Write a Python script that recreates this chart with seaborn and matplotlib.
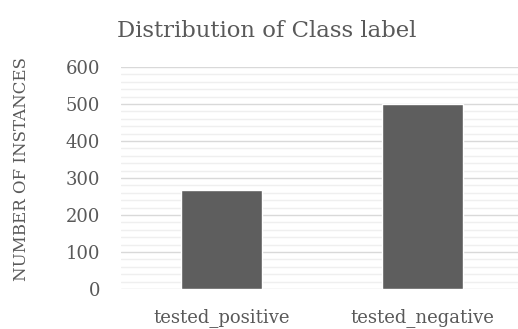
import matplotlib
matplotlib.use("Agg")
import matplotlib.pyplot as plt
from matplotlib.ticker import MultipleLocator
import seaborn as sns
import pandas as pd

categories = ["tested_positive", "tested_negative"]
counts = [268, 500]
y_ticks = [0, 100, 200, 300, 400, 500, 600]

title = "Distribution of Class label"
y_label = "NUMBER OF INSTANCES"

sns.set_theme(style="white")
plt.rcParams["font.family"] = ["DejaVu Serif"]

text_color = "#595959"
bar_color = "#5e5e5e"

df = pd.DataFrame({"label": categories, "count": counts})

fig = plt.figure(figsize=(5.18, 3.29), dpi=100)
ax = fig.add_axes([121 / 518, 40 / 329, 402 / 518, 222 / 329])

sns.barplot(data=df, x="label", y="count", color=bar_color, width=0.40,
            saturation=1, ax=ax, zorder=3)

ax.set_xlim(-0.5, 1.5)
ax.set_ylim(0, 600)
ax.set_yticks(y_ticks)
ax.yaxis.set_minor_locator(MultipleLocator(20))
ax.grid(which="major", axis="y", color="#d9d9d9", linewidth=1.0, zorder=0)
ax.grid(which="minor", axis="y", color="#efefef", linewidth=1.0, zorder=0)
ax.set_axisbelow(True)

for s in ax.spines.values():
    s.set_visible(False)

ax.tick_params(axis="both", which="both", length=0, colors=text_color,
               labelsize=13)
ax.tick_params(axis="y", pad=15)
ax.tick_params(axis="x", pad=14)

ax.set_xlabel("")
ax.set_ylabel("")
fig.text(22 / 518, 1 - 169 / 329, y_label, rotation=90, ha="center",
         va="center", color=text_color, fontsize=12)

fig.text(267 / 518, 1 - 31 / 329, title, ha="center", va="center",
         color=text_color, fontsize=16.4)

fig.savefig("out.png", dpi=100)
